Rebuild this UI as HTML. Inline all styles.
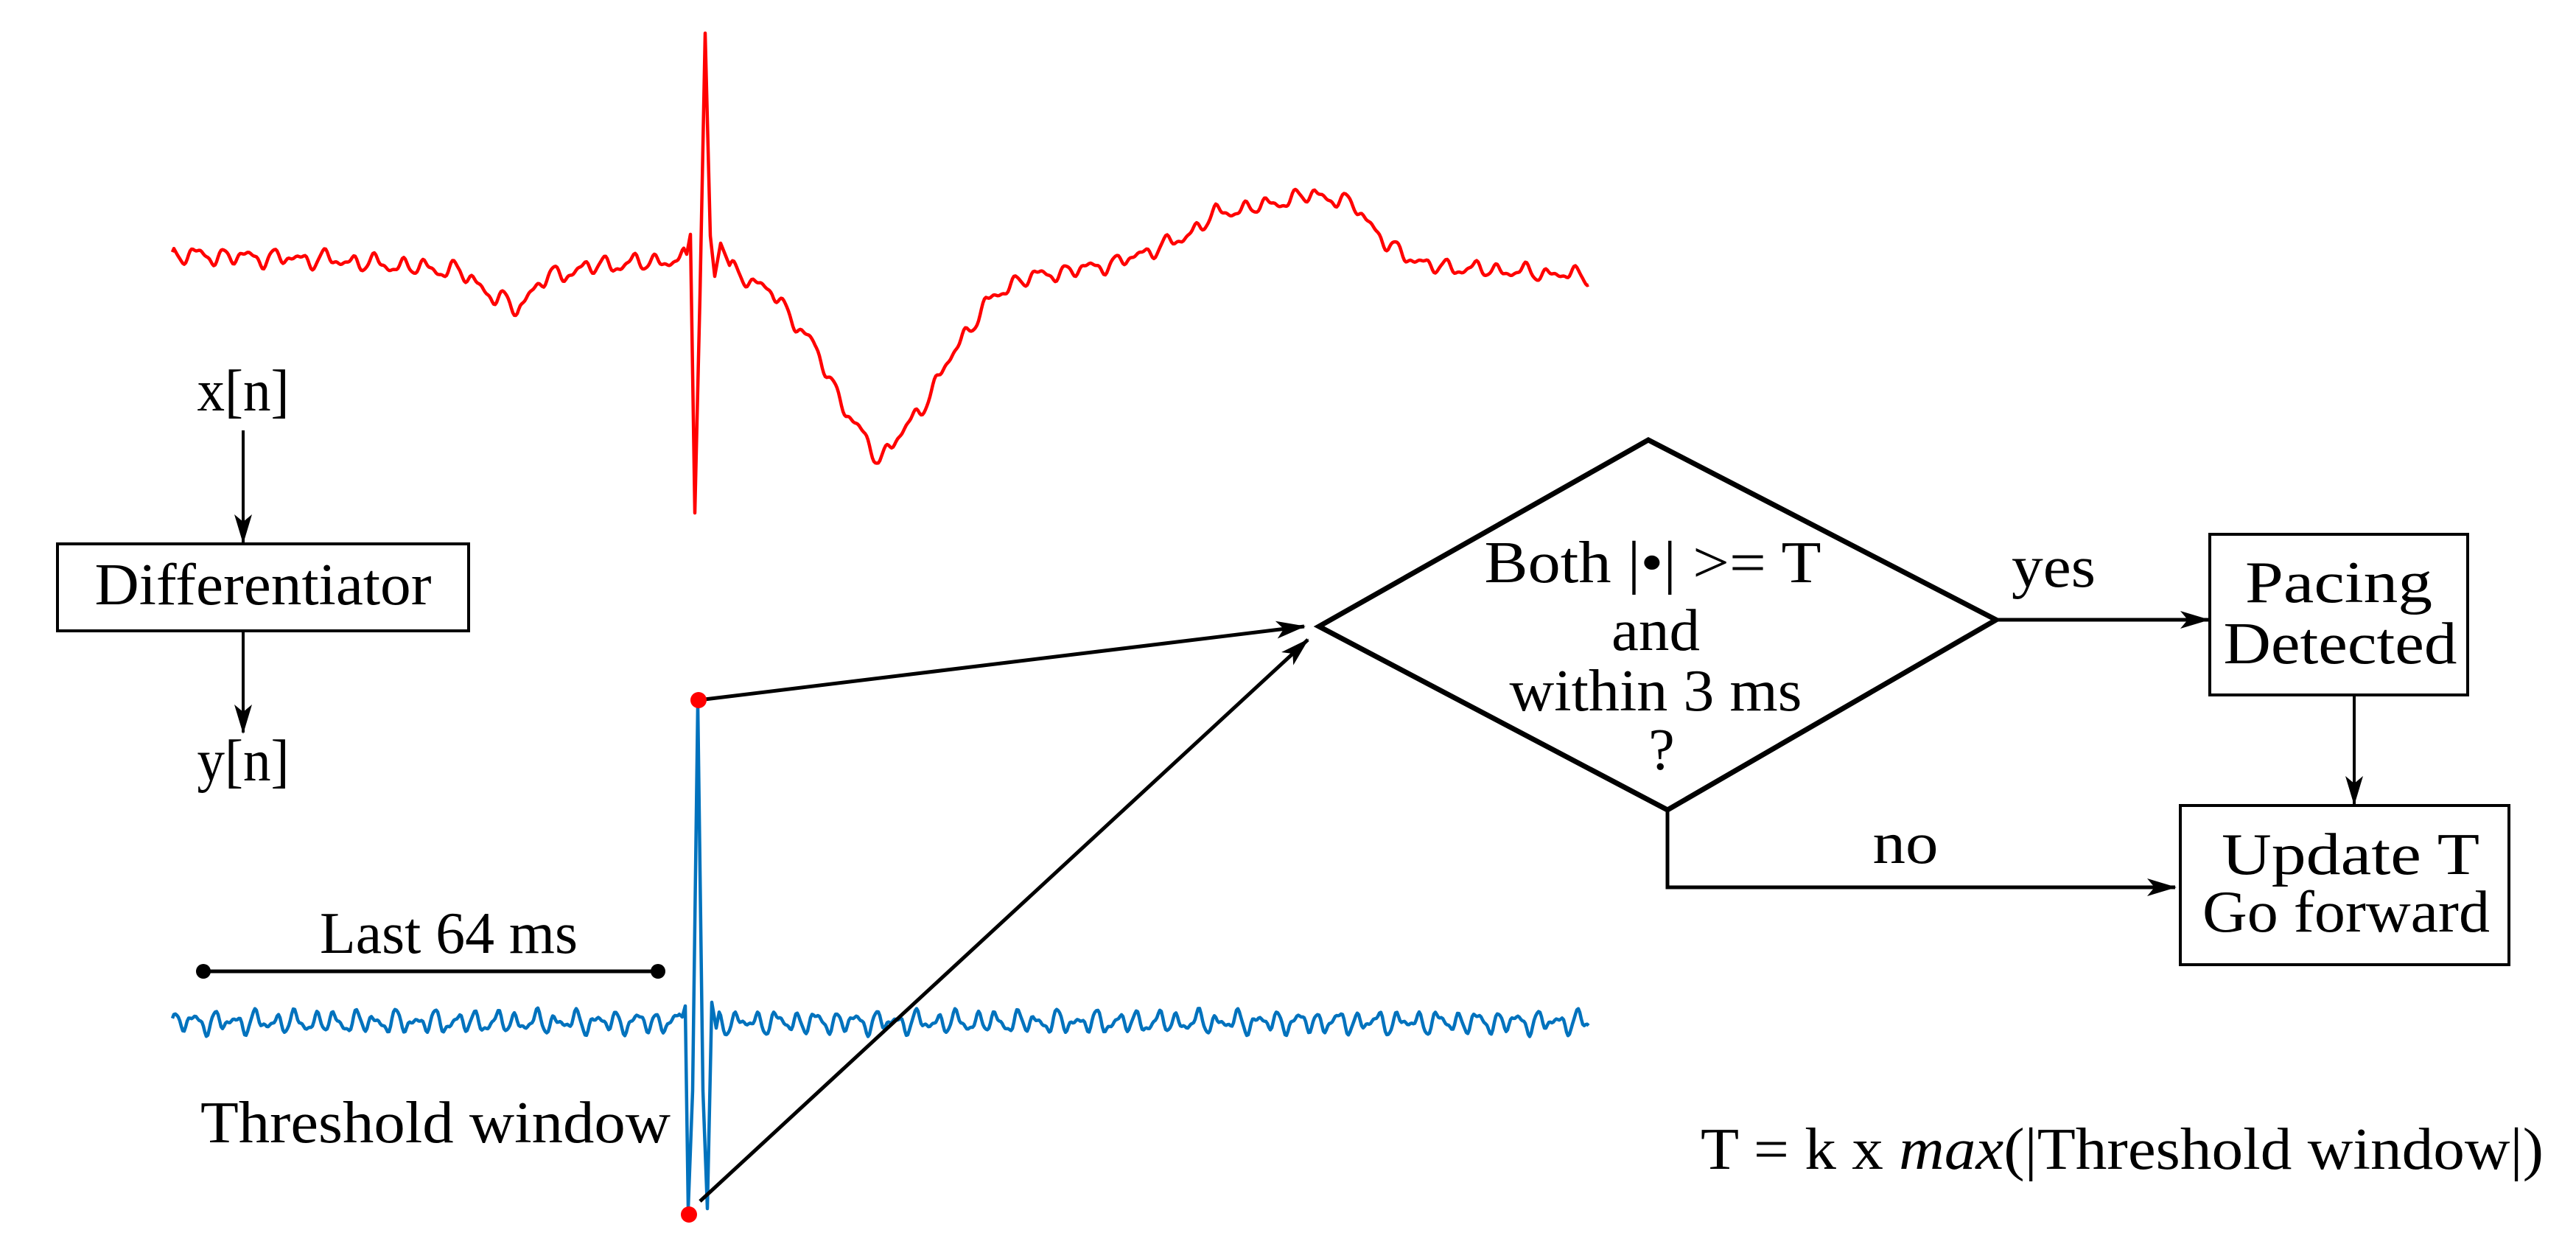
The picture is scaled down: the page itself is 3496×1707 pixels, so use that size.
<!DOCTYPE html>
<html><head><meta charset="utf-8"><style>
html,body{margin:0;padding:0;background:#fff;}
svg{display:block}
text{font-family:"Liberation Serif",serif;font-size:80px;fill:#000}
</style></head><body>
<svg id="s" width="3496" height="1707" viewBox="0 0 3496 1707" xmlns="http://www.w3.org/2000/svg">
<defs>
<marker id="ah" viewBox="0 0 40 24" refX="38" refY="12" markerWidth="40" markerHeight="24" orient="auto" markerUnits="userSpaceOnUse">
<path d="M0,0 L40,12 L0,24 L10,12 Z" fill="#000"/>
</marker>
</defs>
<path id="red" fill="none" stroke="#ff0000" stroke-width="4.5" stroke-linejoin="round"/>
<path id="blue" fill="none" stroke="#0072bd" stroke-width="4.5" stroke-linejoin="round"/>

<text x="330" y="557" text-anchor="middle" textLength="125" lengthAdjust="spacingAndGlyphs">x[n]</text>
<line x1="330" y1="584" x2="330" y2="736" stroke="#000" stroke-width="4" marker-end="url(#ah)"/>
<rect x="78" y="738" width="558" height="118" fill="none" stroke="#000" stroke-width="4"/>
<text x="357" y="820" text-anchor="middle" textLength="457" lengthAdjust="spacingAndGlyphs">Differentiator</text>
<line x1="330" y1="856" x2="330" y2="994" stroke="#000" stroke-width="4" marker-end="url(#ah)"/>
<text x="330" y="1059" text-anchor="middle" textLength="125" lengthAdjust="spacingAndGlyphs">y[n]</text>

<text x="609" y="1293" text-anchor="middle" textLength="350" lengthAdjust="spacingAndGlyphs">Last 64 ms</text>
<line x1="276" y1="1318" x2="893" y2="1318" stroke="#000" stroke-width="5"/>
<circle cx="276" cy="1318" r="10" fill="#000"/>
<circle cx="893" cy="1318" r="10" fill="#000"/>
<text x="591" y="1550" text-anchor="middle" textLength="638" lengthAdjust="spacingAndGlyphs">Threshold window</text>

<line x1="948" y1="950" x2="1770" y2="850" stroke="#000" stroke-width="5" marker-end="url(#ah)"/>
<line x1="950" y1="1630" x2="1775" y2="868" stroke="#000" stroke-width="5" marker-end="url(#ah)"/>
<circle cx="948" cy="950" r="11" fill="#ff0000"/>
<circle cx="935" cy="1648" r="11" fill="#ff0000"/>

<polygon points="1790,850 2237,597 2709,841 2263,1099" fill="none" stroke="#000" stroke-width="7" stroke-linejoin="miter"/>
<text x="2243" y="790" text-anchor="middle" textLength="457" lengthAdjust="spacingAndGlyphs">Both |•| &gt;= T</text>
<text x="2247" y="882" text-anchor="middle" textLength="120" lengthAdjust="spacingAndGlyphs">and</text>
<text x="2247" y="964" text-anchor="middle" textLength="397" lengthAdjust="spacingAndGlyphs">within 3 ms</text>
<text x="2255" y="1044" text-anchor="middle">?</text>

<line x1="2709" y1="841" x2="2997" y2="841" stroke="#000" stroke-width="5" marker-end="url(#ah)"/>
<text x="2787" y="796" text-anchor="middle" textLength="114" lengthAdjust="spacingAndGlyphs">yes</text>
<rect x="2999" y="725" width="350" height="218" fill="none" stroke="#000" stroke-width="4"/>
<text x="3174" y="817" text-anchor="middle" textLength="254" lengthAdjust="spacingAndGlyphs">Pacing</text>
<text x="3176" y="900" text-anchor="middle" textLength="317" lengthAdjust="spacingAndGlyphs">Detected</text>
<line x1="3195" y1="943" x2="3195" y2="1091" stroke="#000" stroke-width="4" marker-end="url(#ah)"/>
<rect x="2959" y="1093" width="446" height="216" fill="none" stroke="#000" stroke-width="4"/>
<text x="3190" y="1186" text-anchor="middle" textLength="350" lengthAdjust="spacingAndGlyphs">Update T</text>
<text x="3184" y="1264" text-anchor="middle" textLength="390" lengthAdjust="spacingAndGlyphs">Go forward</text>

<polyline points="2263,1099 2263,1204 2952,1204" fill="none" stroke="#000" stroke-width="5" marker-end="url(#ah)"/>
<text x="2586" y="1171" text-anchor="middle" textLength="89" lengthAdjust="spacingAndGlyphs">no</text>

<text x="3452" y="1586" text-anchor="end" textLength="1144" lengthAdjust="spacingAndGlyphs">T = k x <tspan font-style="italic">max</tspan>(|Threshold window|)</text>
</svg>
<script>
(function(){
var S=2.2296;
function interp(pts,x){
  for(var i=0;i<pts.length-1;i++){
    if(x>=pts[i][0]&&x<=pts[i+1][0]){var t=(x-pts[i][0])/(pts[i+1][0]-pts[i][0]);return pts[i][1]+t*(pts[i+1][1]-pts[i][1]);}
  }
  return pts[pts.length-1][1];
}
function sc(p){return p.map(function(q){return [q[0]*S,q[1]*S];});}
var redEnvA=sc([[105,155],[200,158],[280,165],[300,180],[315,188],[330,170],[360,162],[416,158]]);
var redEnvB=sc([[442,162],[470,178],[495,210],[515,250],[535,280],[560,250],[580,215],[600,185],[620,170],[680,160],[720,145],[740,130],[770,125],[800,118],[825,125],[845,150],[870,162],[967,168]]);
function noise(x,a,f){return a*(Math.sin(x*0.33*f)+0.55*Math.sin(x*0.51*f+1.3)+0.35*Math.sin(x*0.19*f+2.1)+0.25*Math.sin(x*0.87*f+0.4));}
var d=[],x;
for(x=234;x<=928;x+=2){d.push((d.length?'L':'M')+x.toFixed(1)+','+(interp(redEnvA,x)+noise(x,8,0.55)).toFixed(1));}
[[932,345],[937,318],[943,696],[950,400],[957,45],[964,320],[970,375],[978,330],[986,350]].forEach(function(p){d.push('L'+p[0]+','+p[1]);});
for(x=990;x<=2156;x+=2){d.push('L'+x.toFixed(1)+','+(interp(redEnvB,x)+noise(x,7,0.55)).toFixed(1));}
document.getElementById('red').setAttribute('d',d.join(''));
var b=[];
for(x=234;x<=922;x+=2){b.push((b.length?'L':'M')+x.toFixed(1)+','+(1387+noise(x,10,0.7)).toFixed(1));}
[[926,1380],[930,1365],[934,1640],[940,1480],[947,955],[954,1480],[960,1640],[966,1360],[972,1395]].forEach(function(p){b.push('L'+p[0]+','+p[1]);});
for(x=976;x<=2156;x+=2){b.push('L'+x.toFixed(1)+','+(1387+noise(x,10,0.7)).toFixed(1));}
document.getElementById('blue').setAttribute('d',b.join(''));
})();
</script>
</body></html>
